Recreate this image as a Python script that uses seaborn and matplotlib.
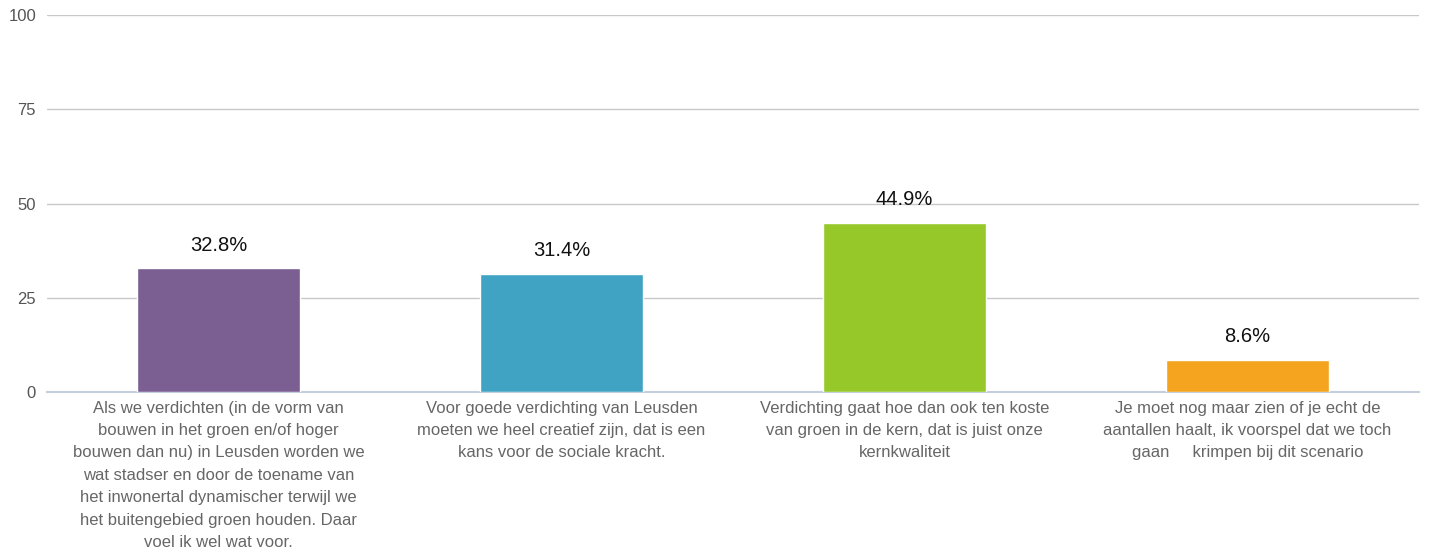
import seaborn as sns
import matplotlib.pyplot as plt
import pandas as pd

categories = [
    "Als we verdichten (in de vorm van\nbouwen in het groen en/of hoger\nbouwen dan nu) in Leusden worden we\nwat stadser en door de toename van\nhet inwonertal dynamischer terwijl we\nhet buitengebied groen houden. Daar\nvoel ik wel wat voor.",
    "Voor goede verdichting van Leusden\nmoeten we heel creatief zijn, dat is een\nkans voor de sociale kracht.",
    "Verdichting gaat hoe dan ook ten koste\nvan groen in de kern, dat is juist onze\nkernkwaliteit",
    "Je moet nog maar zien of je echt de\naantallen haalt, ik voorspel dat we toch\ngaan     krimpen bij dit scenario",
]
values = [32.8, 31.4, 44.9, 8.6]
colors = ["#7b5f92", "#40a3c4", "#96c82a", "#f4a41e"]
yticks = [0, 25, 50, 75, 100]

df = pd.DataFrame({"cat": categories, "val": values})

sns.set_style("white")
plt.rcParams["font.family"] = ["Liberation Sans", "DejaVu Sans"]

fig = plt.figure(figsize=(14.29, 5.54), dpi=100)
ax = fig.add_axes([0.033, 0.292, 0.960, 0.681])

sns.barplot(data=df, x="cat", y="val", hue="cat", palette=colors,
            width=0.475, legend=False, ax=ax, saturation=1, zorder=3)

ax.set_ylim(0, 100)
ax.set_xlim(-0.5, 3.5)
ax.set_yticks(yticks)
ax.yaxis.grid(True, color="#c8c8c8", linewidth=1, zorder=0)
ax.set_axisbelow(True)
ax.set_xlabel("")
ax.set_ylabel("")

for c in ax.containers:
    ax.bar_label(c, labels=[f"{v}%" for v in c.datavalues], padding=10,
                 fontsize=14.5, color="#111111")

for s in ["top", "right", "left"]:
    ax.spines[s].set_visible(False)
ax.spines["bottom"].set_color("#c4cedd")
ax.spines["bottom"].set_linewidth(1.5)

ax.tick_params(axis="y", length=0, labelsize=12, labelcolor="#555555", pad=8)
ax.tick_params(axis="x", which="major", length=0, labelsize=12,
               labelcolor="#666666", pad=6)
ax.set_xticks([0.5, 1.5, 2.5], minor=True)
ax.tick_params(axis="x", which="minor", length=8, color="#c4cedd", width=1.2)
for lbl in ax.get_xticklabels():
    lbl.set_linespacing(1.62)

fig.savefig("out.png", dpi=100)
